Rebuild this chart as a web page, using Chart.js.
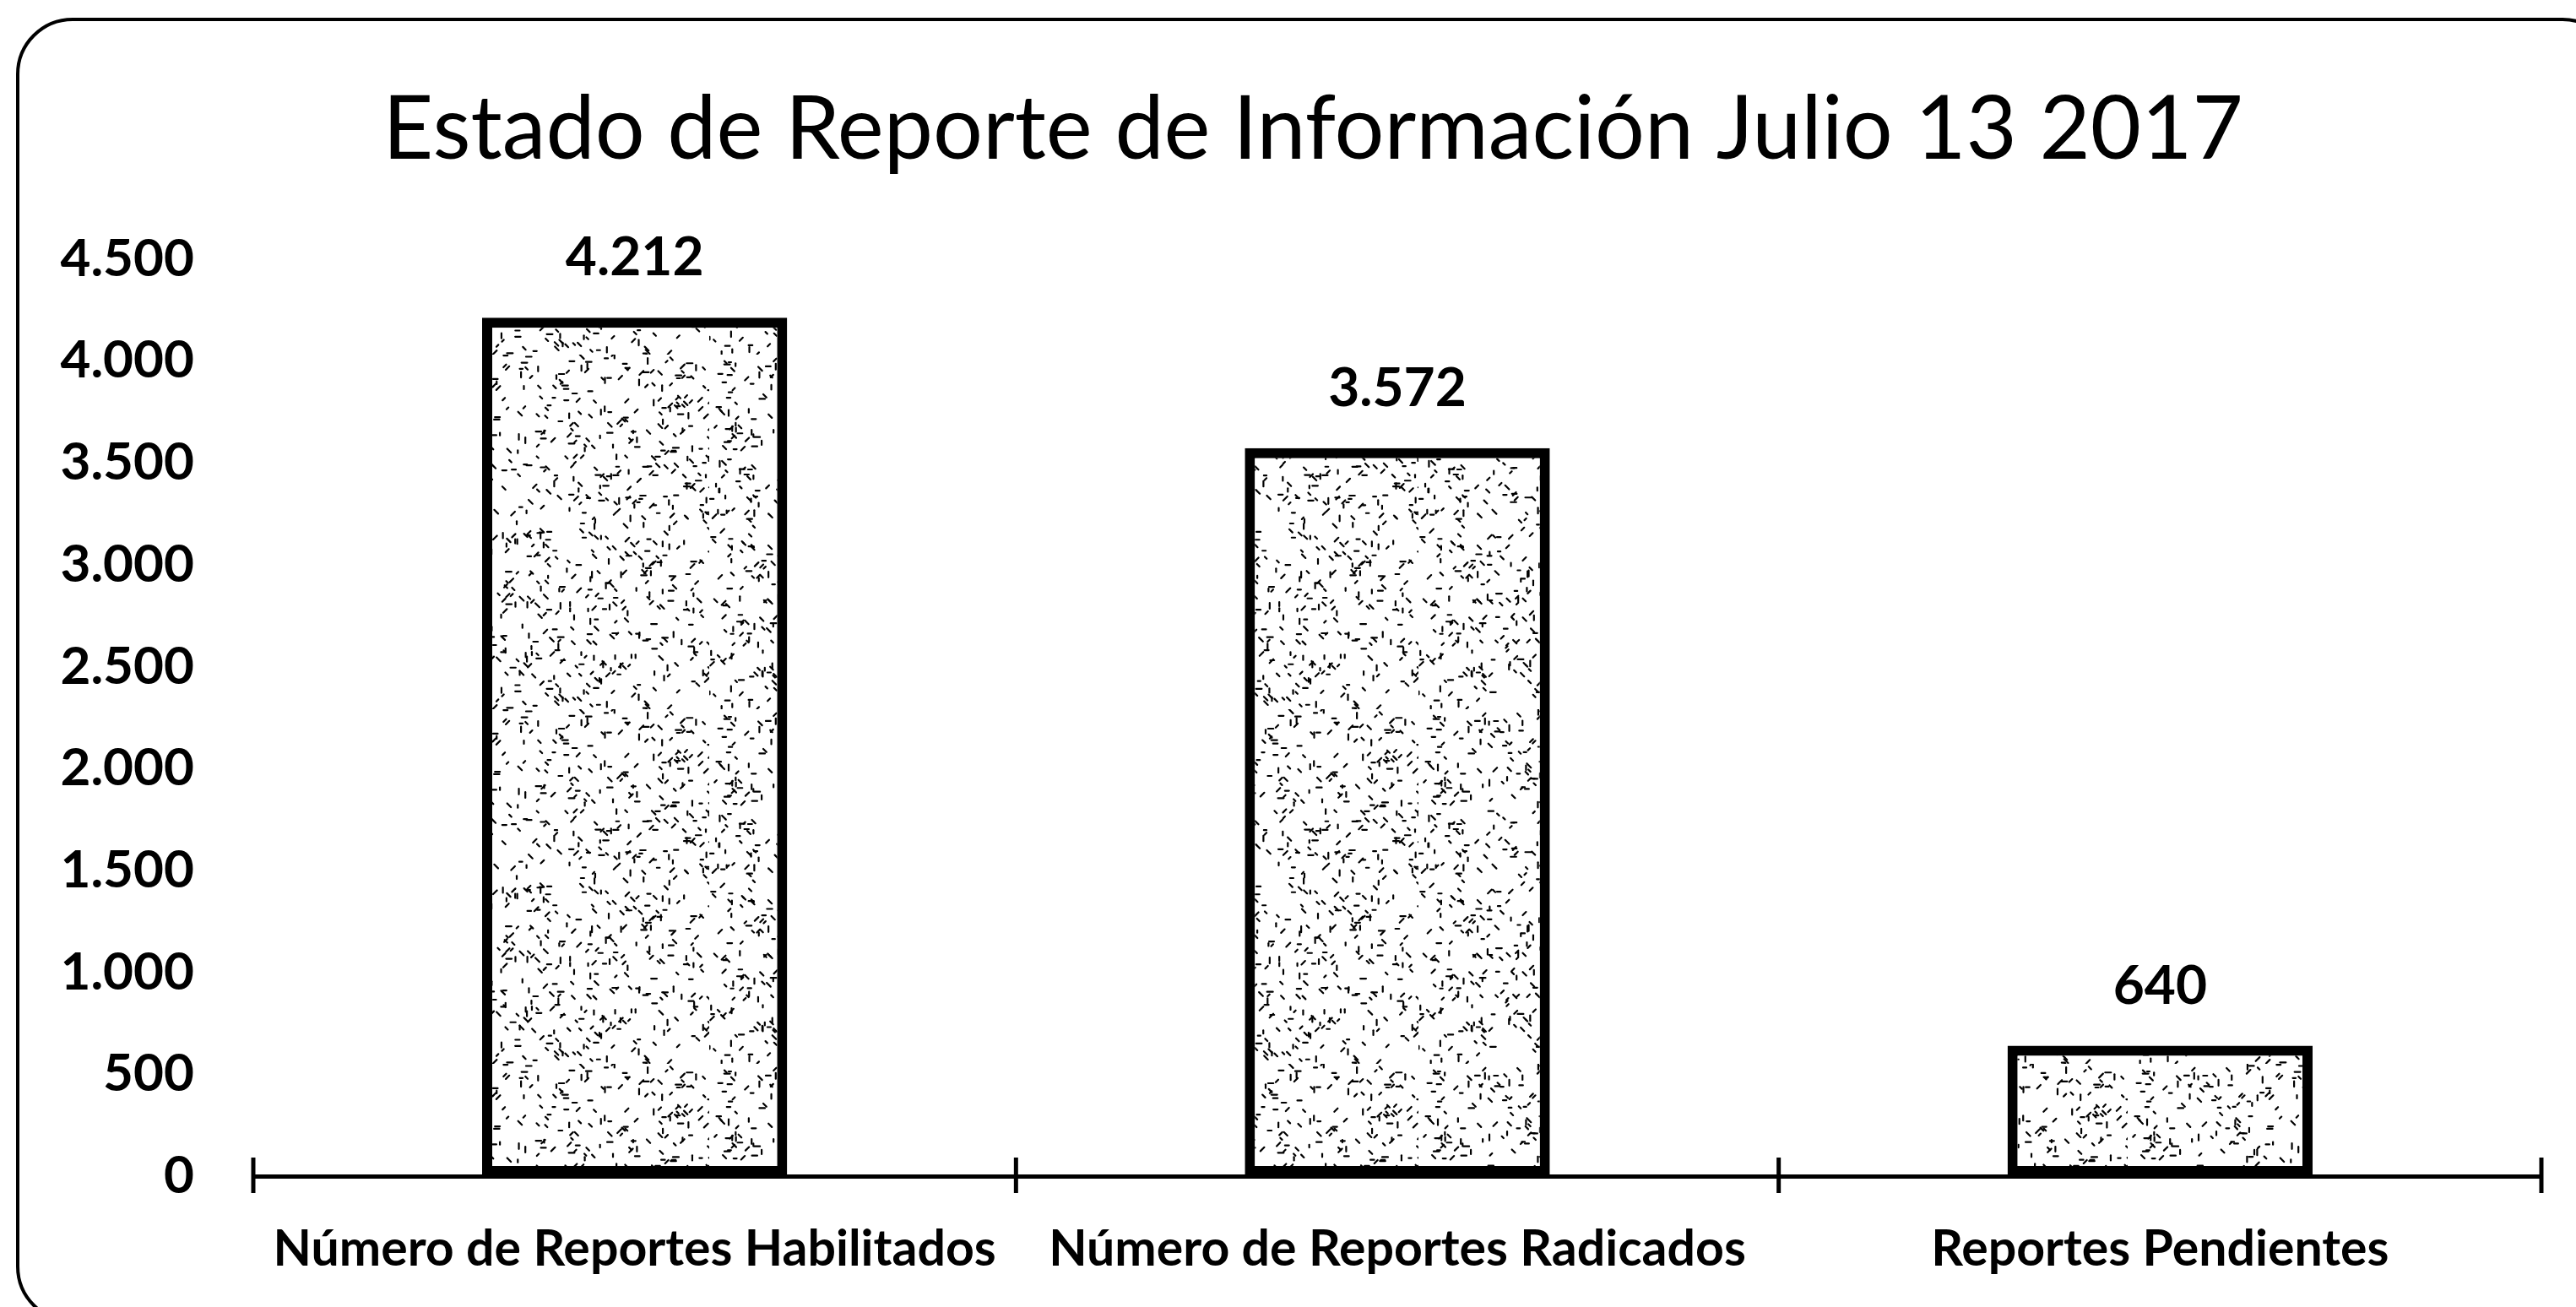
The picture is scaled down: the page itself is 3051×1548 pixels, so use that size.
<!DOCTYPE html>
<html lang="es">
<head>
<meta charset="utf-8">
<title>Estado de Reporte de Información</title>
<script src="https://cdn.jsdelivr.net/npm/chart.js@4.4.1/dist/chart.umd.min.js"></script>
<style>
  html, body { margin:0; padding:0; background:#fff; }
  canvas { display:block; }
</style>
</head>
<body>
<canvas id="grafico" width="3051" height="1548"></canvas>
<script>
(function(){
  const titulo = 'Estado de Reporte de Información Julio 13 2017';
  const categorias = ['Número de Reportes Habilitados', 'Número de Reportes Radicados', 'Reportes Pendientes'];
  const valores = [4212, 3572, 640];
  const marcasY = [0, 500, 1000, 1500, 2000, 2500, 3000, 3500, 4000, 4500];

  const FUENTE = 'Lato, "Open Sans", sans-serif';

  // separador de miles con punto (4.212)
  function fmt(n){ return String(n).replace(/\B(?=(\d{3})+(?!\d))/g, '.'); }

  // trama punteada para el relleno de las barras
  function crearTrama(){
    const N = 420;
    const t = document.createElement('canvas');
    t.width = N; t.height = N;
    const c = t.getContext('2d');
    c.fillStyle = '#fff'; c.fillRect(0, 0, N, N);
    c.strokeStyle = '#000'; c.lineWidth = 2.2; c.lineCap = 'round';
    let s = 98765;
    const rnd = () => { s = (s * 1103515245 + 12345) % 2147483648; return s / 2147483648; };
    const dirs = [[1,0],[0,1],[0.7,0.7],[0.7,-0.7]];
    for(let i = 0; i < 1000; i++){
      const x = rnd() * N, y = rnd() * N;
      const d = dirs[Math.floor(rnd() * dirs.length)];
      const l = 3 + rnd() * 4;
      c.beginPath(); c.moveTo(x, y); c.lineTo(x + d[0]*l, y + d[1]*l); c.stroke();
    }
    return c.createPattern(t, 'repeat');
  }

  // marco redondeado de fondo
  const marco = {
    id: 'marco',
    beforeDraw(chart){
      const ctx = chart.ctx;
      ctx.save();
      ctx.fillStyle = '#fff';
      ctx.fillRect(0, 0, chart.width, chart.height);
      ctx.strokeStyle = '#000'; ctx.lineWidth = 4;
      ctx.beginPath();
      ctx.roundRect(21, 23, 3100 - 21, 1565 - 23, 65);
      ctx.stroke();
      ctx.restore();
    }
  };

  // el título se centra sobre el marco, no sobre todo el lienzo
  const centrarTitulo = {
    id: 'centrarTitulo',
    afterLayout(chart){
      if(chart.titleBlock){ chart.titleBlock.left += 100; }
    }
  };

  // marcas del eje X entre categorías (arriba y abajo de la línea)
  const marcasX = {
    id: 'marcasX',
    afterDraw(chart){
      const x = chart.scales.x, ctx = chart.ctx;
      const paso = x.getPixelForValue(1) - x.getPixelForValue(0);
      const y0 = chart.chartArea.bottom;
      ctx.save();
      ctx.strokeStyle = '#000'; ctx.lineWidth = 5;
      for(let i = 0; i <= categorias.length; i++){
        const px = x.getPixelForValue(0) - paso/2 + i*paso;
        ctx.beginPath(); ctx.moveTo(px, y0 - 22); ctx.lineTo(px, y0 + 20); ctx.stroke();
      }
      ctx.restore();
    }
  };

  // etiquetas de valor encima de cada barra
  const etiquetas = {
    id: 'etiquetas',
    afterDatasetsDraw(chart){
      const ctx = chart.ctx;
      const meta = chart.getDatasetMeta(0);
      ctx.save();
      ctx.font = 'bold 64px ' + FUENTE;
      ctx.fillStyle = '#000';
      ctx.textAlign = 'center';
      ctx.textBaseline = 'alphabetic';
      meta.data.forEach((bar, i) => {
        ctx.fillText(fmt(valores[i]), bar.x, bar.y - 50);
      });
      ctx.restore();
    }
  };

  const ctx = document.getElementById('grafico').getContext('2d');
  new Chart(ctx, {
    type: 'bar',
    data: {
      labels: categorias,
      datasets: [{
        data: valores,
        backgroundColor: crearTrama(),
        borderColor: '#000',
        borderWidth: 12,
        borderSkipped: false,
        categoryPercentage: 1,
        barPercentage: 0.4
      }]
    },
    options: {
      responsive: false,
      animation: false,
      devicePixelRatio: 1,
      layout: { padding: { left: 0, right: 41, top: 0, bottom: 0 } },
      plugins: {
        legend: { display: false },
        tooltip: { enabled: false },
        title: {
          display: true,
          text: titulo,
          color: '#000',
          font: { family: FUENTE, size: 104, weight: 'normal', lineHeight: 1.2 },
          padding: { top: 92, bottom: 90 }
        }
      },
      scales: {
        x: {
          grid: { display: false },
          border: { display: true, color: '#000', width: 5 },
          ticks: {
            color: '#000', padding: 44, maxRotation: 0, autoSkip: false,
            font: { family: FUENTE, size: 59, weight: 'bold', lineHeight: 1.2 }
          },
          afterFit(s){ s.height = 155; }
        },
        y: {
          min: 0, max: 4500,
          grid: { display: false },
          border: { display: false },
          afterBuildTicks(s){ s.ticks = marcasY.map(v => ({ value: v })); },
          ticks: {
            color: '#000', padding: 62,
            font: { family: FUENTE, size: 62, weight: 'bold' },
            callback: v => fmt(v)
          },
          afterFit(s){ s.width = 300; }
        }
      }
    },
    plugins: [marco, centrarTitulo, marcasX, etiquetas]
  });
})();
</script>
</body>
</html>
